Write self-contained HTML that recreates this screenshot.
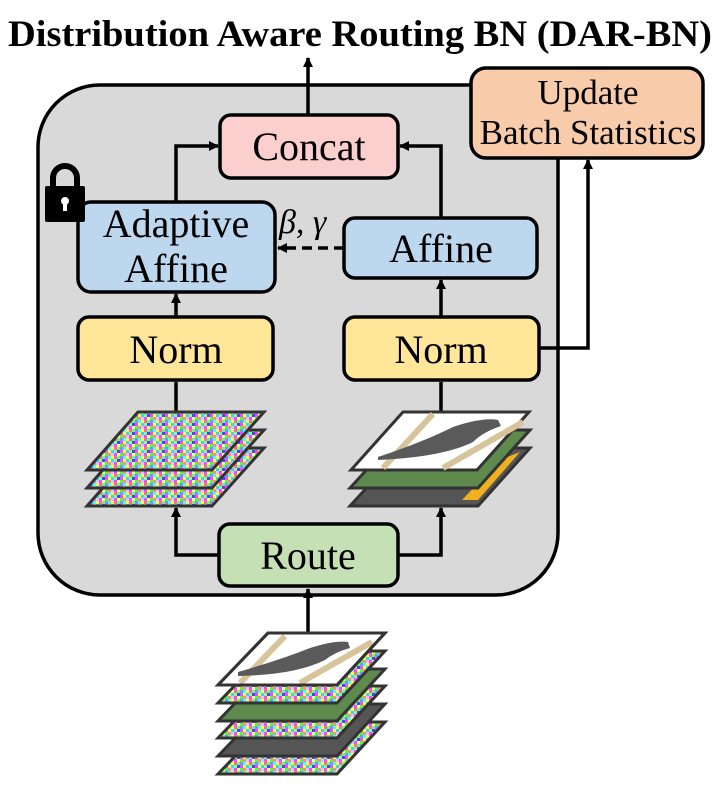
<!DOCTYPE html>
<html><head><style>html,body{margin:0;padding:0;background:#fff}svg{display:block}</style></head>
<body>
<svg width="720" height="792" viewBox="0 0 720 792" xmlns="http://www.w3.org/2000/svg" font-family="'Liberation Serif',serif">
<defs>
<pattern id="nz" patternUnits="userSpaceOnUse" width="15" height="9">
<rect width="15" height="9" fill="#e0f"/>
<rect x="0" y="0" width="3" height="3" fill="#f4f"/><rect x="3" y="0" width="3" height="3" fill="#ff4"/><rect x="6" y="0" width="3" height="3" fill="#4cf"/><rect x="9" y="0" width="3" height="3" fill="#8f8"/><rect x="12" y="0" width="3" height="3" fill="#44f"/>
<rect x="0" y="3" width="3" height="3" fill="#4f4"/><rect x="3" y="3" width="3" height="3" fill="#f88"/><rect x="6" y="3" width="3" height="3" fill="#ccf"/><rect x="9" y="3" width="3" height="3" fill="#f4f"/><rect x="12" y="3" width="3" height="3" fill="#ff8"/>
<rect x="0" y="6" width="3" height="3" fill="#88f"/><rect x="3" y="6" width="3" height="3" fill="#4ff"/><rect x="6" y="6" width="3" height="3" fill="#ff4"/><rect x="9" y="6" width="3" height="3" fill="#f6a"/><rect x="12" y="6" width="3" height="3" fill="#6f6"/>
</pattern>
<marker id="ah" markerWidth="10" markerHeight="10" refX="9" refY="5" orient="auto" markerUnits="userSpaceOnUse"><path d="M0,0 L10,5 L0,10 z" fill="#000"/></marker>
<g id="birdL">
<polygon points="0,0 126,0 74,58 -52,58" fill="#fff" stroke="#333" stroke-width="3"/>
<path d="M-20,56 L30,2 M40,56 L120,10" stroke="#d8c49a" stroke-width="6" fill="none"/>
<path d="M-25,45 Q20,30 50,15 Q80,5 95,8 L98,14 Q80,20 70,30 Q40,45 -25,48 z" fill="#5a5a5a"/>
</g>
</defs>

<text x="360" y="46" text-anchor="middle" font-weight="bold" font-size="37" textLength="704" lengthAdjust="spacingAndGlyphs">Distribution Aware Routing BN (DAR-BN)</text>

<rect x="38" y="85" width="520" height="510" rx="62" fill="#d9d9d9" stroke="#000" stroke-width="3.5"/>

<g stroke="#000" stroke-width="3.5" fill="none">
<line x1="308" y1="115" x2="308" y2="58" marker-end="url(#ah)"/>
<polyline points="176,202 176,146 218,146" marker-end="url(#ah)"/>
<polyline points="441,218 441,146 400,146" marker-end="url(#ah)"/>
<line x1="344" y1="248" x2="278" y2="248" stroke-dasharray="10,6" marker-end="url(#ah)"/>
<polyline points="539,348 588,348 588,160" marker-end="url(#ah)"/>
<line x1="176" y1="317" x2="176" y2="294" marker-end="url(#ah)"/>
<line x1="441" y1="317" x2="441" y2="280" marker-end="url(#ah)"/>
<line x1="176" y1="412" x2="176" y2="382"/>
<line x1="441" y1="412" x2="441" y2="382"/>
<polyline points="219,555 176,555 176,508" marker-end="url(#ah)"/>
<polyline points="398,555 441,555 441,508" marker-end="url(#ah)"/>
<line x1="308" y1="633" x2="308" y2="589" marker-end="url(#ah)"/>
</g>

<g stroke="#000" stroke-width="3.5">
<rect x="220" y="115" width="178" height="63" rx="11" fill="#fccfcf"/>
<rect x="471" y="68" width="232" height="90" rx="15" fill="#f8cbab"/>
<rect x="78" y="202" width="197" height="90" rx="13" fill="#bdd7ee"/>
<rect x="344" y="218" width="193" height="60" rx="11" fill="#bdd7ee"/>
<rect x="78" y="317" width="195" height="63" rx="11" fill="#ffe699"/>
<rect x="344" y="317" width="195" height="63" rx="11" fill="#ffe699"/>
<rect x="219" y="524" width="179" height="62" rx="11" fill="#c5e0b4"/>
</g>
<g font-size="40" text-anchor="middle" fill="#000">
<text x="309" y="160">Concat</text>
<text x="588" y="104" font-size="35">Update</text>
<text x="588" y="144" font-size="35">Batch Statistics</text>
<text x="176" y="237">Adaptive</text>
<text x="176" y="282">Affine</text>
<text x="441" y="262">Affine</text>
<text x="176" y="363">Norm</text>
<text x="441" y="363">Norm</text>
<text x="308" y="569">Route</text>
</g>
<text x="279" y="233" font-size="34" font-style="italic">β, γ</text>

<path d="M53,188 V178 A12,12 0 0 1 77,178 V188" stroke="#000" stroke-width="6" fill="none"/>
<rect x="45" y="186" width="40" height="36" rx="2" fill="#000"/>
<circle cx="65" cy="201" r="4" fill="#fff"/><rect x="63" y="202" width="4" height="9" fill="#fff"/>

<g stroke="#333" stroke-width="3" fill="url(#nz)">
<polygon points="138,448 264,448 212,506 87,506"/>
<polygon points="138,430 264,430 212,488 87,488"/>
<polygon points="138,412 264,412 212,470 87,470"/>
</g>

<polygon points="403,448 530,448 478,506 350,506" fill="#555" stroke="#333" stroke-width="3"/>
<polygon points="500,460 520,452 478,500 462,500" fill="#f0b020"/>
<polygon points="403,430 530,430 478,488 350,488" fill="#5e8a4e" stroke="#333" stroke-width="3"/>
<use href="#birdL" x="403" y="412"/>

<g stroke="#333" stroke-width="3">
<polygon points="268,722 385,722 337,774 218,774" fill="url(#nz)"/>
<polygon points="268,704 385,704 337,756 218,756" fill="#555"/>
<polygon points="268,686 385,686 337,738 218,738" fill="url(#nz)"/>
<polygon points="268,669 385,669 337,721 218,721" fill="#5e8a4e"/>
<polygon points="268,651 385,651 337,703 218,703" fill="url(#nz)"/>
<polygon points="268,633 385,633 337,685 218,685" fill="#fff"/>
</g>
<path d="M240,683 L285,636 M300,683 L372,642" stroke="#d8c49a" stroke-width="6" fill="none"/>
<path d="M238,672 Q280,660 310,648 Q335,640 348,642 L350,648 Q335,652 325,660 Q295,675 238,676 z" fill="#5a5a5a"/>
<polygon points="268,633 385,633 337,685 218,685" fill="none" stroke="#333" stroke-width="3"/>
</svg>
</body></html>
